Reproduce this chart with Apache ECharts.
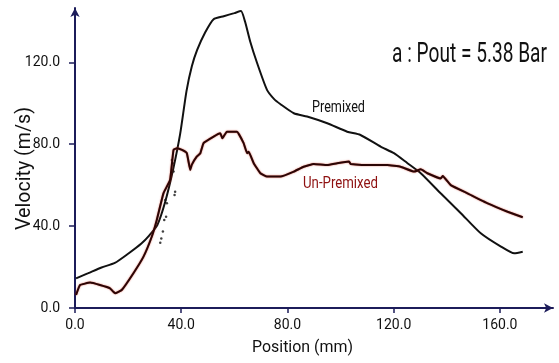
<!DOCTYPE html>
<html><head><meta charset="utf-8">
<script src="https://cdn.jsdelivr.net/npm/echarts@6/dist/echarts.min.js"></script>
<style>html,body{margin:0;padding:0;background:#fff}#c{width:559px;height:363px}</style>
</head><body><div id="c"></div>
<script>
var xTicks = [0, 40, 80, 120, 160];
var yTicks = [0, 40, 80, 120];
var premixedPos = [0.4, 5, 10, 15, 20, 25, 28, 31, 34, 37, 39.6, 42, 44, 46, 49, 52.2, 56, 60, 62.5, 64, 66, 68.6, 72.3, 75, 77.4, 82.4, 87.4, 95, 102.5, 107.5, 115.1, 120.1, 125.2, 130.2, 137.7, 145.3, 152.8, 160.4, 165.4, 168.6];
var premixedVel = [14.5, 17, 19.8, 22, 26.5, 31.5, 35.5, 40.5, 52, 68, 85, 106, 118, 126, 134.5, 141, 142.5, 144, 145, 140, 130, 119.5, 106.5, 102, 99.5, 95.1, 93.5, 90.2, 86.1, 84.5, 78.8, 75.6, 70.7, 65.8, 56, 46.3, 36.5, 30, 26.7, 27.5];
var strayPos = [32.1, 32.5, 33.1, 33.6, 34.3, 34.0, 34.6, 37.5, 37.7, 37.1, 36.8, 36.5];
var strayVel = [31.9, 34, 37.3, 43, 44.6, 52.8, 51.1, 55.2, 56.8, 66.6, 70.7, 72.3];
var unpremixedPos = [0.4, 1.9, 5.7, 9.4, 13.2, 15.1, 17.6, 22, 25.8, 28.9, 30.8, 33.3, 35.8, 37.1, 38.4, 40.3, 42.1, 43.4, 44, 45.9, 47.2, 48.4, 52.2, 54.7, 55.5, 57.2, 61, 63.5, 64.8, 65.4, 67.3, 69.8, 72.3, 77.4, 82.4, 86.1, 89.9, 95, 98.7, 103.2, 103.8, 110, 117.6, 122.6, 127.7, 130.2, 132.7, 137.7, 138.5, 141.5, 147.8, 155.4, 162.9, 168.6];
var unpremixedVel = [6.4, 11.2, 12.4, 11.2, 9.6, 7.2, 8.8, 17, 25.1, 34.8, 43, 56, 62.5, 77.2, 78, 77.2, 75.6, 67.4, 70, 74, 75.6, 80.5, 83.7, 85.3, 82.9, 86.1, 86.1, 80.5, 75.6, 76.3, 70.7, 65.8, 64.2, 64.2, 66.6, 69, 70.3, 69.8, 70.7, 71.5, 70.3, 69.8, 69.8, 69, 66.6, 67.7, 65.8, 63.3, 64.4, 60, 56, 51.1, 47, 44.3];
var titleText = 'a : Pout = 5.38 Bar';
var xName = 'Position (mm)';
var yName = 'Velocity (m/s)';

function pairs(xs, ys){ return xs.map(function(x,i){return [x, ys[i]];}); }
var FAM = "Roboto, 'Liberation Sans', sans-serif";
var mctx = document.createElement('canvas').getContext('2d');
function fitScale(text, font, w){ mctx.font = font; return w / mctx.measureText(text).width; }
var AX = '#1c1c5a';
var fTitle = '28px ' + FAM, fAnn = '16px ' + FAM, fX = '17px ' + FAM, fY = '20px ' + FAM;

var chart = echarts.init(document.getElementById('c'), null, {renderer:'canvas'});
chart.setOption({
  animation:false,
  backgroundColor:'#fff',
  grid:{left:75,right:6,top:8,bottom:55,containLabel:false,outerBoundsMode:'none'},
  xAxis:{type:'value',min:0,max:180,interval:40,
    axisLine:{show:true,symbol:['none','arrow'],symbolSize:[7,9],lineStyle:{color:AX,width:2}},
    axisTick:{show:true,length:5,lineStyle:{color:AX,width:1.5},customValues:xTicks},
    axisLabel:{fontFamily:FAM,fontSize:14,color:'#111',margin:10,customValues:xTicks,formatter:function(v){return v.toFixed(1);}},
    splitLine:{show:false}},
  yAxis:{type:'value',min:0,max:146.5,interval:40,
    axisLine:{show:true,symbol:['none','arrow'],symbolSize:[7,9],lineStyle:{color:AX,width:2}},
    axisTick:{show:true,length:6,lineStyle:{color:AX,width:1.5},customValues:yTicks},
    axisLabel:{fontFamily:FAM,fontSize:14,color:'#111',margin:15,customValues:yTicks,formatter:function(v){return v.toFixed(1);}},
    splitLine:{show:false}},
  series:[
    {name:'Premixed',type:'line',data:pairs(premixedPos,premixedVel),showSymbol:false,smooth:0.2,
     lineStyle:{color:'#111',width:2}},
    {name:'Premixed stray',type:'scatter',data:pairs(strayPos,strayVel),symbolSize:2.5,itemStyle:{color:'#111'}},
    {name:'Un-Premixed',type:'line',data:pairs(unpremixedPos,unpremixedVel),showSymbol:false,smooth:0.1,
     lineStyle:{color:'#2a0505',width:2,shadowColor:'rgba(200,40,20,0.8)',shadowBlur:1.5}}
  ],
  graphic:[
    {type:'text',x:392,y:55,scaleX:fitScale(titleText,fTitle,155),style:{text:titleText,font:fTitle,fill:'#111',textAlign:'left',textVerticalAlign:'middle'}},
    {type:'text',x:312,y:107.5,scaleX:fitScale('Premixed',fAnn,53),style:{text:'Premixed',font:fAnn,fill:'#111',textAlign:'left',textVerticalAlign:'middle'}},
    {type:'text',x:303,y:184,scaleX:fitScale('Un-Premixed',fAnn,75),style:{text:'Un-Premixed',font:fAnn,fill:'#8e1010',textAlign:'left',textVerticalAlign:'middle'}},
    {type:'text',x:252,y:348,scaleX:fitScale(xName,fX,101),style:{text:xName,font:fX,fill:'#111',textAlign:'left',textVerticalAlign:'middle'}},
    {type:'text',x:25,y:168.5,rotation:Math.PI/2,scaleX:fitScale(yName,fY,123),style:{text:yName,font:fY,fill:'#111',textAlign:'center',textVerticalAlign:'middle'}}
  ]
});
</script></body></html>
